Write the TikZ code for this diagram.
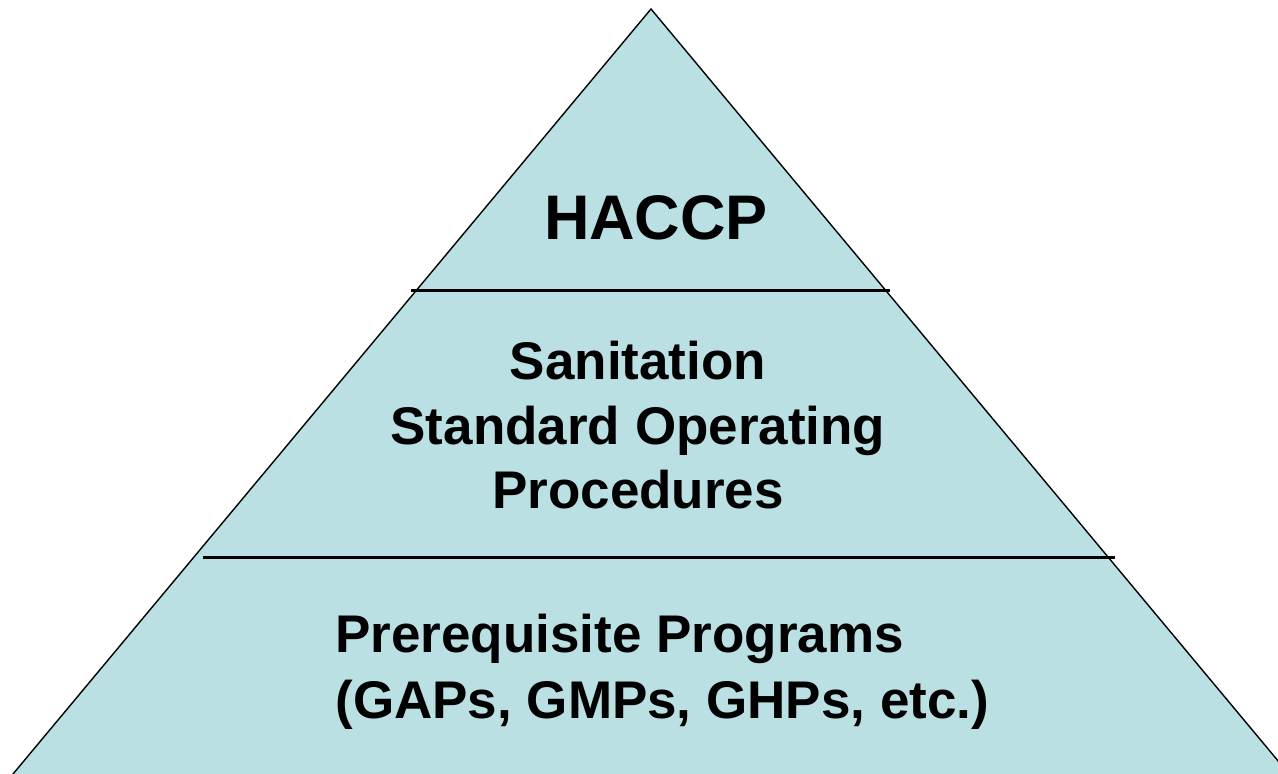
\documentclass[tikz,border=0pt]{standalone}
\usepackage{fontspec}
\setmainfont{Liberation Sans}
\definecolor{pyrblue}{RGB}{187,224,227}
\tikzset{
  tiertext/.style={inner sep=0pt, font=\bfseries\fontsize{26.5}{32}\selectfont},
  tierline/.style={line width=1.5pt}
}
\begin{document}
\begin{tikzpicture}[x=0.5pt,y=-0.5pt]
  % frame
  \clip (0,0) rectangle (1278,774);
  % pyramid
  \draw[fill=pyrblue, line width=0.7pt] (651,9) -- (1294,780) -- (8,780) -- cycle;
  % tier lines
  \draw[tierline] (411,291) -- (890,291);
  \draw[tierline] (203,557) -- (1115,557);
  % texts
  \node[tiertext, font=\bfseries\fontsize{31.5}{38}\selectfont, anchor=base] (haccp) at (656,240) {HACCP};
  \node[tiertext, align=center, anchor=base] (ssop) at (638,508) {Sanitation\\Standard Operating\\Procedures};
  \node[tiertext, align=left, anchor=base west, font=\bfseries\fontsize{26.5}{33}\selectfont] (prp) at (335,718) {Prerequisite Programs\\(GAPs, GMPs, GHPs, etc.)};
\end{tikzpicture}
\end{document}
